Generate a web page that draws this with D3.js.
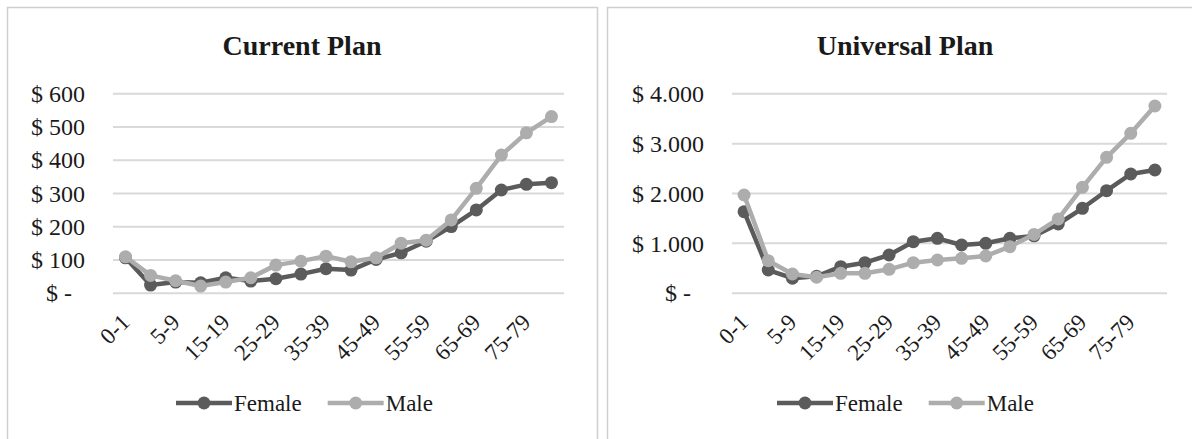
<!DOCTYPE html>
<html>
<head>
<meta charset="utf-8">
<script src="https://cdn.jsdelivr.net/npm/d3@7"></script>
<style>
  html, body { margin: 0; padding: 0; background: #ffffff; }
  svg { display: block; }
  text { font-family: "Liberation Serif", "Times New Roman", serif; fill: #1a1a1a; }
</style>
</head>
<body>
<svg id="chart" width="1192" height="439"></svg>
<script>
// Age groups (every other one is labelled on the axis)
const ageGroups = ["0-1", "1-4", "5-9", "10-14", "15-19", "20-24", "25-29", "30-34", "35-39",
  "40-44", "45-49", "50-54", "55-59", "60-64", "65-69", "70-74", "75-79", "80+"];

// Current plan cost per person, by sex
const currentFemale = [105, 23, 32, 30, 45, 35, 42, 56, 72, 68, 100, 120, 155, 199, 249, 309, 326, 331];
const currentMale   = [108, 52, 36, 20, 32, 45, 83, 95, 110, 93, 105, 149, 158, 219, 314, 414, 481, 530];

// Universal plan cost per person, by sex
const universalFemale = [1625, 455, 290, 330, 522, 602, 756, 1023, 1091, 957, 991, 1091, 1140, 1378, 1693, 2046, 2381, 2461];
const universalMale   = [1960, 642, 375, 310, 389, 389, 469, 602, 656, 690, 736, 923, 1170, 1480, 2114, 2716, 3197, 3745];

const currentTicks = [0, 100, 200, 300, 400, 500, 600];
const universalTicks = [0, 1000, 2000, 3000, 4000];

const seriesNames = ["Female", "Male"];
const seriesColors = { Female: "#5b5b5b", Male: "#adadad" };

// Dollar format with "." as the thousands separator and a dash for zero
const fmt = d3.formatLocale({ decimal: ",", thousands: ".", grouping: [3], currency: ["$", ""] }).format(",d");
const money = v => v === 0 ? "$ -" : "$ " + fmt(v);

const svg = d3.select("#chart");

const panels = [
  { title: "Current Plan", box: [7, 7, 590], plotX: [113, 564], yMax: 600, ticks: currentTicks,
    data: { Female: currentFemale, Male: currentMale }, legendX: 176 },
  { title: "Universal Plan", box: [607, 7, 596], plotX: [732, 1167], yMax: 4000, ticks: universalTicks,
    data: { Female: universalFemale, Male: universalMale }, legendX: 777 }
];

const plotTop = 93.3, plotBottom = 292.7;

panels.forEach(p => {
  const g = svg.append("g");

  // panel frame
  g.append("rect")
    .attr("x", p.box[0] + 0.5).attr("y", p.box[1] + 0.5)
    .attr("width", p.box[2]).attr("height", 460)
    .attr("fill", "#ffffff").attr("stroke", "#cfcfcf").attr("stroke-width", 1.5);

  // title
  g.append("text")
    .attr("x", p.box[0] + p.box[2] / 2).attr("y", 55)
    .attr("text-anchor", "middle")
    .style("font-size", "28px").style("font-weight", "bold")
    .text(p.title);

  const x = d3.scalePoint().domain(ageGroups).range(p.plotX).padding(0.5);
  const y = d3.scaleLinear().domain([0, p.yMax]).range([plotBottom, plotTop]);

  // value axis with gridlines
  const yAxis = g.append("g")
    .attr("transform", `translate(${p.plotX[0]},0)`)
    .call(d3.axisLeft(y).tickValues(p.ticks).tickSize(-(p.plotX[1] - p.plotX[0]))
      .tickPadding(28).tickFormat(money));
  yAxis.select(".domain").remove();
  yAxis.selectAll(".tick line").attr("stroke", "#d9d9d9").attr("stroke-width", 2);
  yAxis.selectAll(".tick text")
    .style("font-size", "24px").attr("fill", "#1a1a1a")
    .attr("dy", "0.34em")
    .attr("dx", d => d === 0 ? -13 : 0);

  // category axis, every other label, rotated
  const xAxis = g.append("g")
    .attr("transform", `translate(0,${plotBottom})`)
    .call(d3.axisBottom(x).tickValues(ageGroups.filter((d, i) => i % 2 === 0)).tickSize(0).tickPadding(0));
  xAxis.select(".domain").remove();
  xAxis.selectAll(".tick text")
    .style("font-size", "23px").attr("fill", "#1a1a1a")
    .attr("text-anchor", "end")
    .attr("y", 0).attr("dy", 0)
    .attr("transform", "translate(5,31) rotate(-45)");

  // lines and markers, Male drawn over Female
  const line = d3.line().x((d, i) => x(ageGroups[i])).y(d => y(d));
  seriesNames.forEach(name => {
    const vals = p.data[name];
    g.append("path")
      .datum(vals)
      .attr("d", line)
      .attr("fill", "none")
      .attr("stroke", seriesColors[name])
      .attr("stroke-width", 4.5)
      .attr("stroke-linejoin", "round");
    g.selectAll(null).data(vals).enter().append("circle")
      .attr("cx", (d, i) => x(ageGroups[i]))
      .attr("cy", d => y(d))
      .attr("r", 6.5)
      .attr("fill", seriesColors[name]);
  });

  // legend
  const legendY = 403;
  const lg = g.append("g");
  let lx = p.legendX;
  seriesNames.forEach(name => {
    lg.append("line")
      .attr("x1", lx).attr("x2", lx + 56)
      .attr("y1", legendY).attr("y2", legendY)
      .attr("stroke", seriesColors[name]).attr("stroke-width", 4.5);
    lg.append("circle")
      .attr("cx", lx + 28).attr("cy", legendY).attr("r", 6.5)
      .attr("fill", seriesColors[name]);
    const t = lg.append("text")
      .attr("x", lx + 58).attr("y", legendY + 8)
      .style("font-size", "23px")
      .text(name);
    lx += 58 + t.node().getComputedTextLength() + 26;
  });
});
</script>
</body>
</html>
